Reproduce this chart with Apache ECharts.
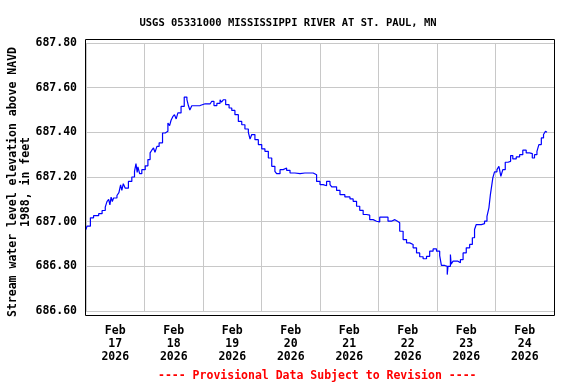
<!DOCTYPE html>
<html>
<head>
<meta charset="utf-8">
<script src="https://cdn.jsdelivr.net/npm/echarts@6/dist/echarts.min.js"></script>
<style>html,body{margin:0;padding:0;background:#fff}#c{width:576px;height:384px}</style>
</head>
<body>
<div id="c"></div>
<script>
// hours since 2026-02-17 00:00
const hours = [0,0.4,1.8,3.1,5.2,6.6,7.9,8.6,9.3,9.8,10.3,10.8,11.3,12.7,13.5,14.2,14.7,15.3,16.1,17.4,18.8,19.9,20.5,21.0,21.3,22.0,22.9,24.3,25.4,26.3,27.0,27.7,28.3,29.1,30.0,31.4,32.5,33.6,34.3,34.9,35.6,36.3,37.0,37.7,39.0,40.3,41.4,42.0,42.6,43.4,45.5,46.8,48.9,50.9,51.6,52.5,53.7,55.0,55.6,56.4,57.3,58.7,59.8,61.1,62.5,63.9,65.2,66.6,67.3,68.0,69.3,70.7,72.1,73.4,74.8,76.2,77.5,78.2,79.6,80.9,82.3,83.7,85.7,87.8,89.8,91.9,93.2,94.6,96.0,97.3,98.7,100.1,100.8,102.8,104.2,106.2,108.3,109.6,111.0,112.3,113.7,115.1,116.4,117.8,119.2,120.5,122.6,123.9,125.3,126.7,127.8,128.7,130.1,131.5,132.8,134.2,135.6,136.9,138.3,139.7,141.0,142.4,143.8,145.1,145.8,147.2,148.2,148.5,149.5,149.8,150.6,152.6,153.6,154.7,156.0,157.4,158.5,159.4,160.1,162.2,163.5,164.5,165.3,165.9,166.4,166.9,167.6,168.6,169.4,170.2,171.0,172.0,173.1,174.2,175.1,176.5,177.9,179.2,180.6,182.0,183.1,184.0,185.0,185.8,186.8,187.7,188.5,189.1];
const levels = [686.965,686.98,687.017,687.027,687.036,687.05,687.065,687.09,687.10,687.075,687.11,687.09,687.106,687.117,687.13,687.165,687.14,687.17,687.15,687.18,687.20,687.225,687.26,687.22,687.245,687.215,687.233,687.25,687.278,687.308,687.32,687.33,687.31,687.337,687.353,687.397,687.405,687.442,687.43,687.454,687.47,687.479,687.46,687.487,687.516,687.558,687.546,687.52,687.50,687.519,687.52,687.528,687.527,687.528,687.539,687.52,687.53,687.546,687.535,687.546,687.524,687.509,687.498,687.479,687.449,687.434,687.415,687.40,687.37,687.39,687.367,687.345,687.326,687.315,687.285,687.248,687.225,687.215,687.233,687.24,687.23,687.218,687.215,687.218,687.218,687.218,687.21,687.18,687.166,687.161,687.18,687.166,687.156,687.14,687.121,687.111,687.102,687.091,687.069,687.051,687.032,687.029,687.009,687.002,686.999,687.02,687.02,687.002,687.009,687.002,686.995,686.957,686.92,686.905,686.898,686.883,686.86,686.843,686.834,686.845,686.868,686.878,686.868,686.848,686.804,686.80,686.763,686.80,686.853,686.81,686.823,686.816,686.83,686.86,686.883,686.898,686.928,686.965,686.987,686.991,687.002,687.024,687.062,687.121,687.158,687.196,687.223,687.233,687.248,687.203,687.233,687.266,687.27,687.296,687.281,687.29,687.30,687.32,687.308,687.305,687.285,687.30,687.315,687.345,687.375,687.39,687.405,687.40];
const dayLabels = ['Feb\n17\n2026','Feb\n18\n2026','Feb\n19\n2026','Feb\n20\n2026','Feb\n21\n2026','Feb\n22\n2026','Feb\n23\n2026','Feb\n24\n2026'];
const yTicks = [686.6, 686.8, 687.0, 687.2, 687.4, 687.6, 687.8];

const FONT = '"DejaVu Sans Mono", monospace';
const chart = echarts.init(document.getElementById('c'), null, {renderer: 'canvas'});
chart.setOption({
  animation: false,
  title: {
    text: 'USGS 05331000 MISSISSIPPI RIVER AT ST. PAUL, MN',
    left: 'center', top: 13,
    textStyle: {fontFamily: FONT, fontWeight: 'bold', fontSize: 10.5, color: '#000'}
  },
  grid: {left: 86, right: 22, top: 43, bottom: 73, containLabel: false, outerBoundsMode: 'none'},
  xAxis: [{
    type: 'value', min: 0, max: 192, interval: 24,
    axisLine: {show: false}, axisTick: {show: false}, axisLabel: {show: false},
    splitLine: {show: true, lineStyle: {color: '#c8c8c8', width: 1}}
  }, {
    type: 'value', min: 0, max: 192, interval: 12, position: 'bottom',
    axisLine: {show: false}, axisTick: {show: false}, splitLine: {show: false},
    axisLabel: {
      show: true, margin: 14, lineHeight: 13,
      fontFamily: FONT, fontWeight: 'bold', fontSize: 11.5, color: '#000',
      formatter: function (v) {
        if (v % 24 === 12) return dayLabels[Math.floor(v / 24)] || '';
        return '';
      }
    }
  }],
  yAxis: {
    type: 'value', min: yTicks[0], max: yTicks[yTicks.length - 1], interval: 0.2,
    axisLine: {show: false}, axisTick: {show: false},
    splitLine: {show: true, lineStyle: {color: '#c8c8c8', width: 1}},
    axisLabel: {
      margin: 9, fontFamily: FONT, fontWeight: 'bold', fontSize: 11.5, color: '#000',
      formatter: function (v) { return v.toFixed(2); }
    },
    name: 'Stream water level elevation above NAVD\n1988, in feet',
    nameLocation: 'middle', nameRotate: 90, nameGap: 53, nameMoveOverlap: false,
    nameTextStyle: {fontFamily: FONT, fontWeight: 'bold', fontSize: 11.5, color: '#000', lineHeight: 13, align: 'center', padding: [0, 10, 0, 0]}
  },
  series: [{
    type: 'line', xAxisIndex: 0, step: 'end', showSymbol: false, symbol: 'none',
    data: hours.map((h, i) => [h, levels[i]]),
    lineStyle: {color: '#0000ff', width: 1.2},
    silent: true
  }],
  graphic: [{
    type: 'rect', shape: {x: 85.5, y: 39.5, width: 469, height: 276},
    style: {fill: null, stroke: '#000', lineWidth: 1}, z: 100
  }, {
    type: 'text', left: 158, top: 370,
    style: {text: '---- Provisional Data Subject to Revision ----', fill: '#ff0000',
      font: 'bold 11.5px "DejaVu Sans Mono", monospace'}
  }]
});
</script>
</body>
</html>
